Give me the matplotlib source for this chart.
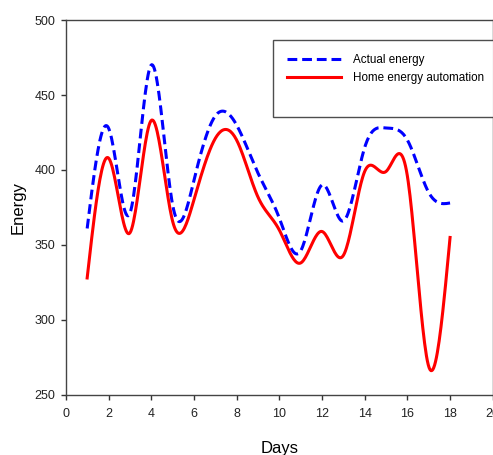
import numpy as np
import matplotlib
matplotlib.use('Agg')
import matplotlib.pyplot as plt
from matplotlib.lines import Line2D

days = list(range(1, 19))
actual_energy = [361, 428, 371, 470, 377, 393, 436, 430, 398,
                 368, 346, 390, 366, 415, 428, 420, 385, 378]
home_automation = [328, 408, 358, 433, 366, 380, 421, 420, 382,
                   360, 338, 359, 343, 399, 399, 396, 269, 355]


def smooth(x, y, n=400):
    # natural cubic spline, only used to draw a smooth curve through the points
    x = np.asarray(x, float)
    y = np.asarray(y, float)
    k = len(x)
    h = np.diff(x)
    A = np.zeros((k, k))
    b = np.zeros(k)
    A[0, 0] = A[-1, -1] = 1
    for i in range(1, k - 1):
        A[i, i - 1] = h[i - 1]
        A[i, i] = 2 * (h[i - 1] + h[i])
        A[i, i + 1] = h[i]
        b[i] = 6 * ((y[i + 1] - y[i]) / h[i] - (y[i] - y[i - 1]) / h[i - 1])
    M = np.linalg.solve(A, b)
    xs = np.linspace(x[0], x[-1], n)
    idx = np.clip(np.searchsorted(x, xs) - 1, 0, k - 2)
    x0, x1 = x[idx], x[idx + 1]
    hh = x1 - x0
    ys = (M[idx] * (x1 - xs) ** 3 / (6 * hh) + M[idx + 1] * (xs - x0) ** 3 / (6 * hh)
          + (y[idx] / hh - M[idx] * hh / 6) * (x1 - xs)
          + (y[idx + 1] / hh - M[idx + 1] * hh / 6) * (xs - x0))
    return xs, ys


plt.rcParams['font.family'] = ['Liberation Sans', 'DejaVu Sans']

fig = plt.figure(figsize=(4.93, 4.55), dpi=100)
ax = fig.add_axes([0.1335, 0.132, 0.866, 0.824])

xs, ys = smooth(days, actual_energy)
ax.plot(xs, ys, color='#0000ff', lw=2.2, linestyle=(0, (3.2, 1.6)),
        label='Actual energy')
xs, ys = smooth(days, home_automation)
ax.plot(xs, ys, color='#ff0000', lw=2.2, label='Home energy automation')

ax.set_xlim(0, 20)
ax.set_ylim(250, 500)
ax.set_xticks(range(0, 21, 2))
ax.set_yticks(range(250, 501, 50))
ax.tick_params(direction='out', length=3.6, width=1, colors='#333333',
               labelsize=9, labelcolor='#222222', pad=4)
ax.tick_params(axis='x', pad=6)
for s in ax.spines.values():
    s.set_color('#444444')
    s.set_linewidth(1)

ax.set_xlabel('Days', fontsize=12, labelpad=15)
ax.set_ylabel('Energy', fontsize=12, labelpad=6)

handles, labels = ax.get_legend_handles_labels()
handles.append(Line2D([], [], color='none'))
labels.append(' ')
leg = ax.legend(handles, labels, loc='upper left', bbox_to_anchor=(0.485, 0.947),
                fontsize=8.4, frameon=True, fancybox=False, edgecolor='#222222',
                handlelength=4.6, handletextpad=1.0, labelspacing=0.52,
                borderpad=1.24, borderaxespad=0)
leg.get_frame().set_linewidth(1)

fig.savefig('out.png', dpi=100)
